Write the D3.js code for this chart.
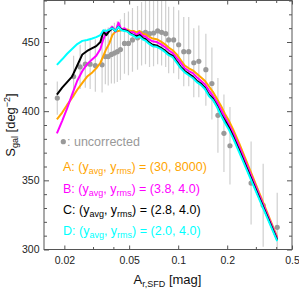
<!DOCTYPE html>
<html><head><meta charset="utf-8">
<script src="https://cdn.jsdelivr.net/npm/d3@7"></script>
<style>
body{margin:0;background:#fff}
svg{display:block}
text{font-family:"Liberation Sans",Arial,Helvetica,sans-serif}
</style>
</head><body><svg id="c" width="299" height="294"></svg>
<script>
// ---- data ----
const xBins = [0.0180,0.0194,0.0208,0.0223,0.0240,0.0258,0.0276,0.0297,0.0314,0.0333,
  0.0347,0.0362,0.0378,0.0394,0.0412,0.0430,0.0448,0.0468,0.0488,0.0509,
  0.0532,0.0555,0.0579,0.0604,0.0630,0.0658,0.0696,0.0737,0.0780,0.0826,
  0.0874,0.0925,0.0979,0.1037,0.1097,0.1161,0.1229,0.1301,0.1378,0.1458,
  0.1544,0.1634,0.1730,0.1830,0.1938,0.2051,0.2171,0.2364,0.4056];
const seriesA = [394,399,404.5,409.5,415.5,420.5,425,428,431,435,
  440,445,449,455,457.5,458,458.5,459,459,458,
  458,457,458,456,455.5,454,452.5,452,450.5,448.5,
  446,444,441,437,433,431,429.5,427,424.5,422,
  418,414,409,404,398,393,387,377,309];
const seriesB = [384,393,402,412,422,429,434,437.5,440,445,
  452,457,459,461,457.5,464,459,460,458,457,
  457,455,457,454.5,454,452,450.5,450,448.5,446.5,
  444,442,438.5,435,431,429,427.5,424.5,422,419.5,
  415,411,406.5,401,395.5,390,384.5,374.5,308];
const seriesC = [412,417,421,425,433,441,443.5,445.5,447,450,
  457.5,455,458,460,458,461,459,458.5,458,456,
  455,454,455,453,452,450,448,447.5,446,444,
  441.5,440,436,432,429,427,425,422,420,417,
  412,409,404,398,393,388,382,372,307];
const seriesD = [433.5,437.5,441.5,445,448.5,450.8,451.5,452.5,453.5,455,
  458.5,458,459,460,458,461,458.5,458,457.5,455.5,
  454.5,453,454,452,451,449,447,446.5,445,443,
  440.5,439,435,431,428,426,424,421,419,416,
  411,408,403,397,391.5,386.5,380.5,370.5,306];
const uncX = [0.0181,0.0228,0.0250,0.0269,0.0288,0.0310,0.0341,0.0357,0.0372,0.0389,
  0.0406,0.0423,0.0442,0.0468,0.0495,0.0524,0.0563,0.0596,0.0630,0.0667,
  0.0706,0.0748,0.0791,0.0838,0.0874,0.0938,0.1007,0.1082,0.1161,0.1247,
  0.1339,0.1479,0.1611,0.1754,0.1910,0.2080,0.2804,0.3326,0.4056];
const uncY = [409.5,425,432,434,434,433,433.5,439.5,439.5,441,
  442,443,444.5,449,449,451.5,453,456,457,456,
  456.5,458,457,456,451.5,451.5,448,443,443,435,
  436,430,420,397,384,375,348,332,316];
const uncErr = [12,15,16,17,18,19,20,20,21,21,
  22,22,22,22,23,23,23,23,23,24,
  24,24,24,24,24,24,25,25,25,25,
  26,26,26,27,28,28,30,30,25];
const seriesNames = ["A","B","C","D"];
const seriesParams = [["30","8000"],["3.8","4.0"],["2.8","4.0"],["2.0","4.0"]];
const seriesColors = ["#FFA500","#FF00FF","#000000","#00FFFF"];
const xTickVals = [0.02,0.05,0.1,0.2,0.5];
const xTickLabels = ["0.02","0.05","0.1","0.2","0.5"];
const xMinorVals = [0.03,0.04,0.3,0.4];
const yTickVals = [300,350,400,450];
const yTickLabels = ["300","350","400","450"];
const yMinorVals = [310,320,330,340,360,370,380,390,410,420,430,440,460,470,480];

// ---- layout ----
const L = 44, R = 292, T = 0.5, B = 249.5;
const svg = d3.select("#c");
const x = d3.scaleLog().domain([0.015,0.5]).range([L,R]);
const y = d3.scaleLinear().domain([300,480]).range([B,T]);
const axisCol = "#555";

svg.append("defs").append("clipPath").attr("id","clip")
  .append("rect").attr("x",L).attr("y",T).attr("width",R-L).attr("height",B-T);

// uncorrected points with error bars
const plot = svg.append("g").attr("clip-path","url(#clip)");
const unc = uncX.map((v,i)=>({x:v,y:uncY[i],e:uncErr[i]}));
plot.append("g").selectAll("line").data(unc).join("line")
  .attr("x1",d=>x(d.x)).attr("x2",d=>x(d.x))
  .attr("y1",d=>y(d.y-d.e)).attr("y2",d=>y(d.y+d.e))
  .attr("stroke","#cfcfcf").attr("stroke-width",1.2);
plot.append("g").selectAll("circle").data(unc).join("circle")
  .attr("cx",d=>x(d.x)).attr("cy",d=>y(d.y)).attr("r",2.6).attr("fill","#999");

// curves
const allSeries = [seriesA,seriesB,seriesC,seriesD];
const line = d3.line().x(d=>x(d[0])).y(d=>y(d[1]));
allSeries.forEach((s,i)=>{
  plot.append("path").datum(xBins.map((v,j)=>[v,s[j]]))
    .attr("d",line).attr("fill","none").attr("stroke",seriesColors[i])
    .attr("stroke-width",2).attr("stroke-linejoin","round");
});

// frame
svg.append("rect").attr("x",L).attr("y",T).attr("width",R-L).attr("height",B-T)
  .attr("fill","none").attr("stroke",axisCol).attr("stroke-width",1);

function styleAxis(g){
  g.select(".domain").remove();
  g.selectAll(".tick line").attr("stroke",axisCol);
  g.selectAll("text").attr("fill","#222").style("font-size","10.5px")
   .style("font-family",'"Liberation Sans",Arial,sans-serif');
}
// bottom
svg.append("g").attr("transform",`translate(0,${B})`)
  .call(d3.axisBottom(x).tickValues(xTickVals).tickFormat((d,i)=>xTickLabels[i]).tickSize(-4).tickPadding(7))
  .call(styleAxis);
svg.append("g").attr("transform",`translate(0,${B})`)
  .call(d3.axisBottom(x).tickValues(xMinorVals).tickFormat("").tickSize(-2.5))
  .call(styleAxis);
// top
svg.append("g").attr("transform",`translate(0,${T})`)
  .call(d3.axisTop(x).tickValues(xTickVals).tickFormat("").tickSize(-4))
  .call(styleAxis);
svg.append("g").attr("transform",`translate(0,${T})`)
  .call(d3.axisTop(x).tickValues(xMinorVals).tickFormat("").tickSize(-2.5))
  .call(styleAxis);
// left
svg.append("g").attr("transform",`translate(${L},0)`)
  .call(d3.axisLeft(y).tickValues(yTickVals).tickFormat((d,i)=>yTickLabels[i]).tickSize(-5).tickPadding(4.5))
  .call(styleAxis);
svg.append("g").attr("transform",`translate(${L},0)`)
  .call(d3.axisLeft(y).tickValues(yMinorVals).tickFormat("").tickSize(-3))
  .call(styleAxis);
// right
svg.append("g").attr("transform",`translate(${R},0)`)
  .call(d3.axisRight(y).tickValues(yTickVals).tickFormat("").tickSize(-5))
  .call(styleAxis);
svg.append("g").attr("transform",`translate(${R},0)`)
  .call(d3.axisRight(y).tickValues(yMinorVals).tickFormat("").tickSize(-3))
  .call(styleAxis);

// axis labels
const xl = svg.append("text").attr("x",167.5).attr("y",284).attr("text-anchor","middle")
  .style("font-size","13px").attr("fill","#111");
xl.append("tspan").text("A");
xl.append("tspan").attr("dy",3).style("font-size","9px").text("r,SFD");
xl.append("tspan").attr("dy",-3).text(" [mag]");

const yl = svg.append("text").attr("transform","translate(15,125) rotate(-90)")
  .attr("text-anchor","middle").style("font-size","13px").attr("fill","#111");
yl.append("tspan").text("S");
yl.append("tspan").attr("dy",3).style("font-size","9px").text("gal");
yl.append("tspan").attr("dy",-3).text(" [deg");
yl.append("tspan").attr("dy",-5).style("font-size","9px").text("\u22122");
yl.append("tspan").attr("dy",5).text("]");

// legend
svg.append("circle").attr("cx",63.3).attr("cy",141.7).attr("r",2.6).attr("fill","#999");
svg.append("text").attr("x",67).attr("y",145.5).style("font-size","12.5px")
  .attr("fill","#999").text(": uncorrected");
const legY = [171,192.7,214.3,235];
seriesNames.forEach((n,i)=>{
  const t = svg.append("text").attr("x",63).attr("y",legY[i]).style("font-size","12.5px")
    .attr("fill",seriesColors[i]);
  t.append("tspan").text(n+": (y");
  t.append("tspan").attr("dy",3).style("font-size","9px").text("avg");
  t.append("tspan").attr("dy",-3).text(", y");
  t.append("tspan").attr("dy",3).style("font-size","9px").text("rms");
  t.append("tspan").attr("dy",-3).text(") = ("+seriesParams[i][0]+", "+seriesParams[i][1]+")");
});
</script>
</body></html>
